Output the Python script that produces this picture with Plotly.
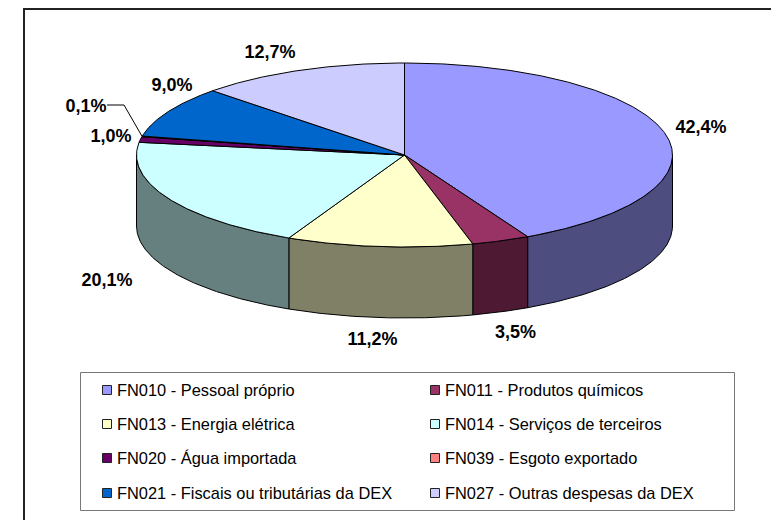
import numpy as np
import plotly.graph_objects as go

# ---- data ----
categories = ["FN010 - Pessoal próprio", "FN011 - Produtos químicos",
              "FN013 - Energia elétrica", "FN014 - Serviços de terceiros",
              "FN020 - Água importada", "FN039 - Esgoto exportado",
              "FN021 - Fiscais ou tributárias da DEX", "FN027 - Outras despesas da DEX"]
values = [42.4, 3.5, 11.2, 20.1, 1.0, 0.1, 9.0, 12.7]

# ---- styles ----
top_colors = ["#9999FF", "#993366", "#FFFFCC", "#CCFFFF", "#660066", "#FF8080", "#0066CC", "#CCCCFF"]
side_colors = ["#4D4D80", "#4D1933", "#808066", "#668080", "#330033", "#804040", "#003366", "#666680"]

# ---- layout constants (pixels; axes map 1:1 to the page) ----
W, H = 771, 520
CX, CY, RX, RY, DEPTH = 404.5, 155, 268, 92, 71
label_xy = [(701, 128), (515.5, 333), (372.5, 340), (107, 281),
            (111, 137), (86, 107), (172, 86), (270, 53)]
legend_rows = [390, 424, 458, 493]
legend_cols = [(107, 117), (435, 445)]
LABEL_SIZE, LEGEND_SIZE = 18, 16.4
FONT = "Liberation Sans, Arial, sans-serif"


def pt(theta):
    """Project a clockwise-from-top angle (degrees) onto the tilted ellipse."""
    t = np.radians(theta)
    return CX + RX * np.sin(t), CY - RY * np.cos(t)


def arc(a, b):
    n = max(2, int(abs(b - a) * 2) + 2)
    return pt(np.linspace(a, b, n))


fig = go.Figure()
cum = np.cumsum([0] + values) / sum(values) * 360

# side walls of the front half
for i in range(len(values)):
    a, b = max(cum[i], 90), min(cum[i + 1], 270)
    if b <= a:
        continue
    xa, ya = arc(a, b)
    x = np.r_[xa, xa[::-1], xa[0]]
    y = np.r_[ya, ya[::-1] + DEPTH, ya[0]]
    fig.add_trace(go.Scatter(x=x, y=y, mode="lines", fill="toself", fillcolor=side_colors[i],
                             line=dict(color="#000000", width=1), hoverinfo="skip",
                             name=categories[i] + " (lateral)"))

# top faces
for i in range(len(values)):
    xa, ya = arc(cum[i], cum[i + 1])
    x = np.r_[CX, xa, CX]
    y = np.r_[CY, ya, CY]
    fig.add_trace(go.Scatter(x=x, y=y, mode="lines", fill="toself", fillcolor=top_colors[i],
                             line=dict(color="#000000", width=1), name=categories[i]))

# leader line for the 0,1% slice
lx, ly = pt((cum[5] + cum[6]) / 2)
fig.add_trace(go.Scatter(x=[107, 124, lx], y=[105, 105, ly], mode="lines",
                         line=dict(color="#000000", width=1), hoverinfo="skip", name="guia"))

# data labels
fig.add_trace(go.Scatter(x=[p[0] for p in label_xy], y=[p[1] for p in label_xy], mode="text",
                         text=[f"{v:.1f}%".replace(".", ",") for v in values],
                         textposition="middle center",
                         textfont=dict(family=FONT, size=LABEL_SIZE, color="#000000"),
                         texttemplate="<b>%{text}</b>", hoverinfo="skip", name="rótulos"))

# legend box
fig.add_shape(type="rect", x0=80.5, y0=372.5, x1=734.5, y1=510.5,
              line=dict(color="#777777", width=1), fillcolor="#FFFFFF", layer="below")
# chart frame (open on the right and at the bottom)
fig.add_trace(go.Scatter(x=[24, 24, W], y=[H, 9, 9], mode="lines",
                         line=dict(color="#222222", width=2), hoverinfo="skip", name="moldura"))

# legend keys and texts
for i, name in enumerate(categories):
    kx, tx = legend_cols[i % 2]
    ky = legend_rows[i // 2]
    fig.add_trace(go.Scatter(x=[kx], y=[ky], mode="markers",
                             marker=dict(symbol="square", size=9, color=top_colors[i],
                                         line=dict(color="#222222", width=1)),
                             hoverinfo="skip", name=name))
    fig.add_annotation(x=tx, y=ky, text=name, showarrow=False, xanchor="left", yanchor="middle",
                       xshift=-1, font=dict(family=FONT, size=LEGEND_SIZE, color="#000000"),
                       borderpad=0)

fig.update_layout(width=W, height=H, margin=dict(l=0, r=0, t=0, b=0), showlegend=False,
                  paper_bgcolor="#FFFFFF", plot_bgcolor="#FFFFFF",
                  xaxis=dict(range=[0, W], visible=False, fixedrange=True),
                  yaxis=dict(range=[H, 0], visible=False, fixedrange=True))
fig.write_html("out.html", config={"displayModeBar": False},
               post_script="document.documentElement.style.overflow='hidden';document.body.style.margin='0';")
